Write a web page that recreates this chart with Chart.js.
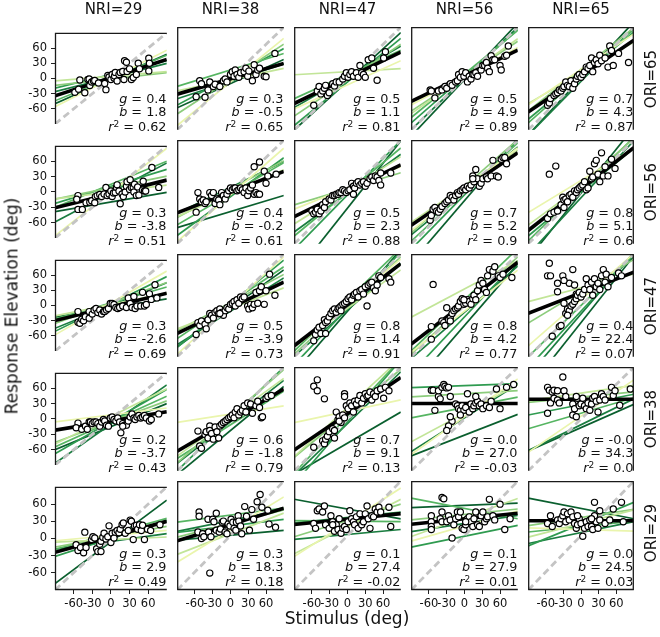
<!DOCTYPE html>
<html><head><meta charset="utf-8">
<script src="https://cdn.jsdelivr.net/npm/chart.js@4.4.0/dist/chart.umd.min.js"></script>
<style>
html,body{margin:0;padding:0;background:#fff;}
#wrap{position:relative;width:660px;height:637px;overflow:hidden;font-family:"DejaVu Sans",sans-serif;color:#111;background:#fff;}
canvas{position:absolute;}
.ann{position:absolute;font-size:12.8px;line-height:1;white-space:nowrap;text-align:right;}
.ann i{font-style:italic;}
.ann sup{font-size:9px;line-height:0;vertical-align:0.45em;}
.lbl{position:absolute;white-space:nowrap;line-height:1;}
</style></head><body><div id="wrap"></div>
<script>
// ---------------- data ----------------
const NRI = [29, 38, 47, 56, 65];          // columns
const ORI = [65, 56, 47, 38, 29];          // rows
const TICKS = [-60, -30, 0, 30, 60];
const LIMITS = [-90, 90];
const IDENTITY = [1, 0];

const GAIN = [["0.4","0.3","0.5","0.5","0.7"],["0.3","0.4","0.5","0.7","0.8"],["0.3","0.5","0.8","0.8","0.4"],["0.2","0.6","0.7","0.0","-0.0"],["0.3","0.3","0.1","0.1","0.0"]];
const BIAS = [["1.8","-0.5","1.1","4.9","4.3"],["-3.8","-0.2","2.3","5.2","5.1"],["-2.6","-3.9","1.4","4.2","22.4"],["-3.7","-1.8","9.1","27.0","34.3"],["2.9","18.3","27.4","27.9","24.5"]];
const R2 = [["0.62","0.65","0.81","0.89","0.87"],["0.51","0.61","0.88","0.9","0.6"],["0.69","0.73","0.91","0.77","0.07"],["0.43","0.79","0.13","-0.03","0.0"],["0.49","0.18","-0.02","0.01","0.03"]];

// responses [stimulus, response] per panel, one array per ORI row (NRI 29..65)
const RESP_ORI65 = [
 [[-58,-27],[-52,-21],[-50,-3],[-42,-28],[-37,-2],[-35,-1],[-34,-14],[-31,-7],[-28,-5],[-26,-4],[-20,-9],[-10,-10],[-8,-22],[-5,6],[-3,3],[0,-2],[2,8],[5,1],[6,5],[7,12],[10,-5],[13,8],[15,12],[19,14],[21,-2],[22,35],[25,32],[26,14],[30,19],[33,-2],[36,2],[41,8],[44,30],[46,19],[61,40],[62,30],[61,15]],
 [[-58,-32],[-52,-4],[-49,-9],[-43,-33],[-38,-20],[-35,-6],[-29,-14],[-26,-10],[-18,-14],[-12,-4],[-9,-1],[-6,-6],[0,7],[3,12],[6,4],[8,15],[11,7],[14,2],[17,10],[23,12],[26,18],[29,4],[31,13],[37,-4],[40,24],[43,7],[46,15],[49,18],[57,4],[60,3],[75,44]],
 [[-57,-47],[-51,-22],[-48,-14],[-45,-27],[-42,-22],[-39,-17],[-37,-12],[-34,-30],[-31,-25],[-25,-9],[-22,-13],[-19,-6],[-14,-6],[-8,-1],[-5,4],[-2,10],[1,2],[4,7],[7,12],[10,4],[15,10],[18,2],[21,23],[24,10],[27,7],[30,2],[35,33],[41,36],[44,18],[50,-3],[61,36],[64,47]],
 [[-58,-20],[-56,-22],[-50,-34],[-44,-22],[-38,-20],[-33,-14],[-30,-17],[-24,-9],[-21,-12],[-15,-6],[-12,-4],[-10,7],[-7,2],[-4,12],[-1,4],[2,10],[5,-6],[8,4],[11,-1],[14,7],[16,7],[19,10],[22,4],[28,15],[31,23],[34,23],[37,28],[39,18],[42,12],[45,40],[48,33],[51,33],[60,23],[62,15],[68,39],[74,57],[71,41]],
 [[-57,-47],[-54,-43],[-52,-35],[-46,-30],[-43,-27],[-40,-25],[-37,-20],[-34,-22],[-31,-17],[-29,-14],[-26,-6],[-23,-12],[-20,-14],[-17,-4],[-14,-17],[-11,-9],[-8,-1],[-6,4],[-3,7],[0,2],[3,7],[6,12],[9,20],[12,18],[15,23],[18,36],[20,12],[23,28],[26,33],[29,26],[32,41],[35,31],[41,36],[46,20],[49,57],[52,49],[55,23],[64,44],[81,28]]
];
const RESP_ORI56 = [
 [[-53,-7],[-55,-14],[-53,-34],[-46,-34],[-40,-21],[-34,-20],[-31,-17],[-26,-21],[-25,-9],[-22,-7],[-18,-5],[-15,-9],[-11,-4],[-8,9],[-6,-7],[-3,-4],[0,2],[2,-9],[4,-2],[7,-1],[9,9],[10,14],[13,2],[15,-23],[18,-4],[20,-9],[23,0],[25,11],[26,20],[30,5],[31,24],[33,9],[36,9],[37,0],[38,15],[41,-7],[43,10],[45,-6],[51,4],[52,21],[54,2],[56,2],[66,48],[77,9]],
 [[-58,-35],[-55,-1],[-52,-12],[-49,-17],[-46,-14],[-43,-20],[-41,-17],[-35,-1],[-32,-6],[-29,-1],[-26,-20],[-23,-12],[-20,-14],[-18,-22],[-15,-1],[-12,-6],[-9,-12],[-6,-4],[-3,2],[0,7],[3,4],[6,7],[8,7],[11,2],[14,4],[17,7],[20,4],[23,-1],[26,7],[29,-6],[31,2],[34,7],[37,12],[40,-4],[43,-1],[46,-4],[49,-4],[40,44],[49,52],[57,36],[60,15],[63,28],[77,31]],
 [[-60,-33],[-57,-38],[-54,-35],[-51,-30],[-48,-38],[-45,-33],[-42,-22],[-39,-27],[-37,-17],[-31,-12],[-28,-14],[-25,-6],[-22,-6],[-19,-4],[-16,-4],[-14,-1],[-11,-1],[-8,4],[-5,2],[-2,-1],[1,2],[4,4],[7,15],[10,10],[12,7],[15,15],[18,18],[21,12],[24,15],[27,18],[30,10],[33,15],[38,23],[41,26],[44,20],[47,28],[50,26],[53,20],[56,12],[56,33],[73,33],[10,-4]],
 [[-58,-49],[-56,-41],[-53,-30],[-50,-27],[-47,-33],[-44,-35],[-41,-30],[-38,-25],[-33,-20],[-30,-17],[-27,-14],[-24,-6],[-21,-9],[-18,-14],[-15,-6],[-12,-1],[-10,-4],[-7,2],[-4,4],[-1,7],[2,4],[5,10],[8,7],[11,12],[14,28],[16,18],[19,39],[22,23],[25,10],[28,15],[31,23],[37,26],[39,23],[45,28],[48,55],[54,28],[57,26],[62,57],[65,60],[68,60],[71,49],[14,23]],
 [[-54,31],[-43,45],[-57,-46],[-52,-38],[-46,-35],[-40,-33],[-34,-22],[-31,-9],[-29,-14],[-26,-12],[-23,-17],[-20,-6],[-17,-4],[-14,-9],[-11,2],[-8,-1],[-6,4],[-3,7],[0,10],[3,12],[6,18],[9,4],[12,7],[15,36],[18,23],[20,26],[23,49],[26,55],[29,31],[32,18],[35,68],[38,28],[41,44],[46,28],[52,57],[58,41],[-29,-27]]
];
const RESP_ORI47 = [
 [[-53,-12],[-53,-33],[-50,-35],[-47,-27],[-44,-30],[-41,-22],[-35,-25],[-35,-12],[-30,-17],[-27,-9],[-24,-6],[-21,-14],[-18,-9],[-15,-17],[-12,-12],[-10,-12],[-7,-9],[-4,-6],[-1,4],[2,4],[5,2],[8,-4],[11,-6],[14,-4],[19,-1],[25,-4],[28,15],[31,4],[34,-4],[37,18],[39,-6],[42,-1],[48,-1],[51,26],[54,-1],[57,2],[62,23],[65,12],[71,41],[74,15]],
 [[-58,-51],[-55,-30],[-52,-35],[-49,-27],[-43,-33],[-41,-41],[-38,-25],[-35,-14],[-32,-17],[-29,-22],[-26,-12],[-23,-9],[-20,-14],[-18,-6],[-15,-12],[-12,-17],[-9,-9],[-6,-4],[-3,-6],[0,2],[3,4],[6,7],[8,-1],[11,10],[14,4],[17,15],[20,12],[23,15],[29,-1],[31,-6],[34,2],[37,-4],[40,2],[43,23],[46,4],[49,26],[52,33],[57,2],[60,26],[66,55],[75,18],[-18,-14]],
 [[-57,-62],[-54,-51],[-51,-43],[-48,-38],[-45,-49],[-42,-35],[-39,-25],[-37,-30],[-34,-27],[-31,-20],[-28,-14],[-25,-9],[-22,-6],[-19,-12],[-16,-6],[-14,-4],[-11,-1],[-8,2],[-5,4],[-2,7],[1,12],[4,15],[7,10],[10,18],[12,20],[15,23],[18,15],[21,26],[24,28],[27,20],[30,33],[33,-1],[35,36],[38,39],[41,41],[44,31],[47,26],[50,36],[53,52],[56,49],[70,47],[73,41],[-37,-49],[-11,-9]],
 [[-53,37],[-56,-37],[-56,-59],[-38,-27],[-35,-30],[-33,-35],[-30,-4],[-27,-25],[-24,-22],[-21,-14],[-18,-9],[-15,-6],[-12,-4],[-10,-1],[-7,7],[-4,12],[-1,2],[2,4],[5,10],[8,7],[11,2],[14,12],[16,18],[19,10],[22,26],[25,36],[28,44],[31,39],[34,28],[37,23],[39,52],[42,63],[48,60],[51,68],[57,52],[60,49],[65,55],[80,49],[-24,-27],[-1,10]],
 [[-54,74],[-57,52],[-52,52],[-40,39],[-31,52],[-40,24],[-20,39],[-14,63],[-11,36],[-8,20],[-29,44],[-49,-54],[-37,-37],[-34,-35],[-26,-14],[-23,-6],[-20,-9],[-17,-1],[-14,2],[-11,7],[-8,12],[-6,18],[-3,23],[0,15],[3,20],[6,28],[9,47],[12,36],[15,28],[18,41],[20,18],[23,47],[26,33],[29,39],[32,28],[35,52],[38,63],[41,41],[43,55],[46,33],[52,49],[64,57],[69,52],[-29,4],[-23,-17]]
];
const RESP_ORI38 = [
 [[-53,-8],[-56,-17],[-47,-20],[-41,-14],[-38,-20],[-35,-6],[-33,-6],[-30,-9],[-27,-6],[-24,-6],[-21,-9],[-18,-14],[-15,-6],[-12,-1],[-10,-4],[-7,-12],[-4,-14],[-1,2],[2,4],[5,-1],[8,-4],[11,2],[14,-6],[16,-27],[19,-9],[22,-12],[25,-12],[28,-4],[31,4],[34,10],[37,2],[39,-1],[42,4],[45,7],[48,2],[51,4],[54,7],[57,2],[62,-4],[65,-1],[77,10],[19,-14]],
 [[-55,-21],[-52,-47],[-49,-51],[-43,-27],[-41,-22],[-38,-33],[-35,-12],[-35,-20],[-32,-25],[-29,-35],[-26,-14],[-23,-22],[-20,-33],[-18,-12],[-15,-9],[-12,-6],[-9,-4],[-6,-1],[-3,2],[0,4],[3,7],[6,2],[8,12],[11,18],[14,7],[17,12],[20,15],[23,23],[26,12],[29,28],[34,26],[37,10],[43,23],[46,31],[49,20],[52,2],[54,4],[60,36],[63,39],[69,41]],
 [[-57,57],[-51,68],[-51,49],[-39,35],[-57,-49],[-42,-38],[-39,-43],[-37,-35],[-34,-30],[-31,-22],[-25,-17],[-22,-20],[-19,12],[-16,-1],[-14,4],[-11,-6],[-8,7],[-5,44],[-5,39],[-2,23],[1,18],[4,28],[7,23],[10,12],[12,31],[15,26],[18,33],[21,41],[24,28],[27,36],[30,44],[33,39],[35,41],[38,47],[41,33],[44,44],[47,39],[50,49],[56,52],[61,36],[64,55],[70,49],[-14,-4],[-22,-33],[-5,2]],
 [[-56,50],[-53,50],[-44,39],[-41,35],[-44,49],[-38,55],[-35,60],[-33,57],[-30,54],[-27,55],[-24,39],[-21,-4],[-27,-12],[-30,-20],[-24,4],[-15,26],[-12,23],[-10,18],[-7,15],[-4,23],[-1,15],[2,20],[5,44],[8,12],[11,26],[14,18],[16,23],[19,28],[22,31],[25,23],[28,26],[31,18],[37,23],[42,20],[45,31],[54,52],[60,18],[71,55],[83,60],[-50,15],[-7,7],[19,39]],
 [[-57,55],[-54,50],[-49,47],[-46,50],[-40,49],[-31,73],[-29,49],[-26,39],[-52,28],[-57,10],[-46,36],[-40,33],[-14,26],[-14,7],[-11,18],[-8,4],[-6,36],[-3,23],[0,26],[3,36],[6,23],[9,18],[12,28],[15,15],[18,26],[20,36],[23,39],[26,31],[29,12],[32,33],[35,44],[38,39],[41,33],[52,55],[55,41],[58,49],[66,24],[84,52],[-8,39],[-37,28]]
];
const RESP_ORI29 = [
 [[-56,-11],[-53,-21],[-49,-16],[-44,-25],[-42,11],[-40,-16],[-31,-2],[-29,3],[-26,1],[-23,-18],[-21,-23],[-18,-10],[-16,-5],[-13,2],[-11,9],[-8,-1],[-5,3],[-3,22],[0,-7],[2,9],[5,1],[7,11],[10,14],[13,10],[15,16],[18,24],[20,27],[23,9],[28,14],[31,32],[33,30],[36,-2],[38,22],[41,23],[43,16],[46,24],[49,14],[51,23],[54,-2],[59,16],[64,14],[79,24],[-16,-23]],
 [[-53,39],[-53,32],[-55,6],[-49,-5],[-47,3],[-45,-2],[-38,27],[-37,6],[-33,-2],[-30,27],[-28,23],[-24,37],[-24,9],[-19,6],[-17,11],[-14,22],[-12,24],[-9,6],[-6,3],[-4,19],[-1,16],[1,27],[4,22],[6,12],[9,9],[10,22],[13,33],[14,24],[17,16],[19,3],[24,48],[27,32],[32,9],[36,43],[39,27],[45,56],[50,68],[53,47],[63,42],[65,19],[76,14],[-35,-62]],
 [[-57,20],[-54,12],[-51,41],[-48,44],[-42,39],[-39,49],[-37,18],[-31,12],[-28,33],[-25,23],[-22,7],[-19,18],[-16,10],[-14,28],[-11,4],[-8,12],[-5,15],[-2,10],[1,23],[4,41],[7,28],[10,23],[12,18],[15,31],[18,12],[21,36],[24,18],[27,23],[30,36],[33,49],[35,28],[38,12],[41,33],[44,31],[47,44],[50,39],[53,47],[56,39],[70,47],[73,15],[-25,18]],
 [[-56,33],[-56,23],[-56,15],[-56,10],[-38,63],[-35,61],[-41,28],[-38,39],[-38,23],[-30,23],[-27,33],[-24,26],[-21,-4],[-18,18],[-15,28],[-12,39],[-10,31],[-7,39],[-4,12],[-1,10],[2,18],[5,28],[8,31],[11,23],[14,15],[16,28],[19,39],[22,18],[25,15],[28,33],[31,39],[34,23],[37,28],[39,31],[42,60],[48,33],[51,26],[60,52],[68,10],[77,28],[2,23]],
 [[-57,20],[-52,33],[-49,15],[-40,26],[-37,20],[-34,28],[-31,33],[-29,39],[-26,23],[-23,36],[-20,26],[-17,39],[-14,31],[-11,20],[-8,12],[-6,18],[-3,28],[0,20],[3,-1],[6,12],[9,23],[12,15],[15,26],[18,15],[20,10],[23,33],[26,23],[29,12],[32,26],[23,55],[32,41],[41,20],[49,26],[55,44],[69,55],[72,23],[18,28],[-6,33]]
];

// per-participant fits [gain, bias]
const SUBJ_ORI65 = [
 [[0.62,0],[0.1,4.5],[0.14,-1],[0.5,1],[0.3,8],[0.31,2],[0.54,-1]],
 [[0.85,-6],[0.22,-2],[0.68,-1],[0.32,15],[0.55,3],[0.34,-5],[0.47,-9]],
 [[0.47,-11],[0.06,12],[0.7,-3],[0.47,7],[0.85,-6],[0.6,3],[0.95,-5]],
 [[0.56,4],[0.73,4],[0.68,4],[0.85,8],[0.91,4],[1.0,0],[1.1,-2]],
 [[0.69,16],[0.6,10],[0.81,16],[0.91,4],[0.85,5],[1.05,-5],[1.1,0]]
];
const SUBJ_ORI56 = [
 [[0.95,0],[0.15,0],[0.25,8.5],[0.5,15],[0.37,11],[0.64,-1],[0.21,-19.5]],
 [[0.9,-5],[0.45,-2],[0.55,5],[0.6,-3],[0.75,-8],[0.5,8],[0.31,-34]],
 [[0.41,7],[0.65,3],[0.31,5.5],[0.85,0],[1.05,-5],[0.75,-2],[1.3,-28]],
 [[0.8,5],[0.7,10],[0.9,10],[0.95,0],[1.05,-5],[0.85,2],[1.2,-15]],
 [[0.62,20],[0.75,10],[0.9,12],[1.0,5],[0.85,0],[1.1,-10],[1.27,-2]]
];
const SUBJ_ORI47 = [
 [[0.7,5],[0.25,2],[0.45,5],[0.35,5],[0.6,3],[0.5,0],[0.2,-5]],
 [[0.95,0],[0.4,-5],[0.55,5],[0.7,5],[0.85,3],[0.65,-10],[0.75,-5]],
 [[0.85,5],[0.75,-5],[0.95,0],[1.0,10],[1.1,-5],[0.9,-8],[1.2,-10]],
 [[0.8,-10],[0.55,29],[0.95,0],[1.0,10],[1.1,-20],[0.9,-12],[1.2,-35]],
 [[0.9,10],[0.27,31],[0.62,25],[1.0,0],[1.1,-10],[1.2,-15],[1.3,-30]]
];
const SUBJ_ORI38 = [
 [[0.15,8],[0.6,5],[0.45,-5],[0.55,-5],[0.7,-5],[0.85,-10],[0.5,-15]],
 [[0.16,8.5],[0.75,3],[0.9,5],[0.65,-10],[1.0,0],[0.8,-5],[0.85,-20]],
 [[0.22,13.5],[0.95,20],[0.85,10],[1.1,5],[1.2,-5],[1.0,-8],[0.6,-42]],
 [[0.73,4],[0.55,10],[0.06,44],[0.2,20],[0.04,58],[0.65,2],[0.4,-28]],
 [[0.7,5],[0.15,45],[0.1,38],[0.3,10],[0.2,25],[0.5,-10],[0.45,-15]]
];
const SUBJ_ORI29 = [
 [[0.1,5],[0.05,-2],[0.2,3],[0.3,8],[0.35,0],[0.15,-5],[0.81,-6]],
 [[0.6,10],[0.38,3],[0.25,20],[0.13,34],[0.12,16],[0.2,25],[0.09,0.5]],
 [[0.63,22],[0.5,15],[0.3,25],[-0.01,24],[0.1,30],[0.09,2],[-0.18,44]],
 [[0.28,16],[0.35,30],[0.1,35],[-0.19,45],[0.2,-1],[0.15,20],[0.04,50]],
 [[-0.03,10],[0.25,20],[0.15,30],[0.1,15],[0.4,19],[0.2,5],[-0.19,45]]
];

const RESP = [RESP_ORI65, RESP_ORI56, RESP_ORI47, RESP_ORI38, RESP_ORI29];
const SUBJ = [SUBJ_ORI65, SUBJ_ORI56, SUBJ_ORI47, SUBJ_ORI38, SUBJ_ORI29];
const SUBJ_COLORS = ['#eaf5ad','#c2e598','#8ccc7c','#56b562','#2f9b50','#1a7d40','#0a5f2e'];

// ---------------- layout ----------------
const X = [55, 172, 289, 406, 523, 639];
const Y = [22, 135, 249, 362, 476, 590];
const YW = 45, XH = 30;
const wrap = document.getElementById('wrap');

function fitLine(g, b) {
  return LIMITS.map(x => ({ x: x, y: g * x + b }));
}
function tickFmt(v) { return String(v); }

const framePlugin = {
  id: 'frame',
  afterDraw(chart, args, opts) {
    const a = chart.chartArea, c = chart.ctx;
    c.save();
    c.strokeStyle = '#1a1a1a'; c.lineWidth = 1.3;
    c.beginPath();
    c.moveTo(a.left + 0.5, a.bottom); c.lineTo(a.left + 0.5, a.top + 0.5); c.lineTo(a.right, a.top + 0.5);
    if (opts.right) { c.moveTo(a.right - 0.5, a.top); c.lineTo(a.right - 0.5, a.bottom); }
    if (opts.bottom) { c.moveTo(a.left, a.bottom - 0.5); c.lineTo(a.right, a.bottom - 0.5); }
    c.stroke();
    c.restore();
  }
};

function scaleOpts(show, isX) {
  return {
    type: 'linear', min: LIMITS[0], max: LIMITS[1], display: show,
    afterBuildTicks: s => { s.ticks = TICKS.map(v => ({ value: v })); },
    afterFit: s => {
      if (isX) s.height = show ? XH : 0;
      else s.width = show ? YW : 0;
    },
    grid: { display: true, drawOnChartArea: false, drawTicks: true, tickLength: 4, color: '#222', lineWidth: 1 },
    border: { display: false },
    ticks: { callback: tickFmt, autoSkip: false, maxRotation: 0, padding: isX ? 3 : 4,
             color: '#111', font: { family: 'DejaVu Sans', size: 11.5 } }
  };
}

for (let r = 0; r < 5; r++) {
  for (let c = 0; c < 5; c++) {
    const isLeft = c === 0, isBottom = r === 4;
    const left = X[c] - (isLeft ? YW : 0);
    const w = X[c + 1] - X[c] + (isLeft ? YW : 0);
    const top = Y[r];
    const h = Y[r + 1] - Y[r] + (isBottom ? XH : 0);
    const cv = document.createElement('canvas');
    cv.width = w; cv.height = h;
    cv.style.left = left + 'px'; cv.style.top = top + 'px';
    cv.style.width = w + 'px'; cv.style.height = h + 'px';
    wrap.appendChild(cv);

    const datasets = [];
    datasets.push({
      data: RESP[r][c].map(p => ({ x: p[0], y: p[1] })),
      showLine: false, pointRadius: 3.1, pointBorderWidth: 1.2,
      pointBackgroundColor: '#fff', pointBorderColor: '#000', order: 0
    });
    datasets.push({
      data: fitLine(parseFloat(GAIN[r][c]), parseFloat(BIAS[r][c])),
      showLine: true, borderColor: '#000', borderWidth: 3.6, pointRadius: 0, order: 1, clip: 0
    });
    datasets.push({
      data: fitLine(IDENTITY[0], IDENTITY[1]),
      showLine: true, borderColor: '#c4c4c4', borderWidth: 2.8, borderDash: [7, 4],
      pointRadius: 0, order: 2, clip: 0
    });
    SUBJ[r][c].forEach((s, k) => {
      datasets.push({
        data: fitLine(s[0], s[1]),
        showLine: true, borderColor: SUBJ_COLORS[k], borderWidth: 1.7,
        pointRadius: 0, order: 3 + k, clip: 0
      });
    });

    new Chart(cv, {
      type: 'scatter',
      data: { datasets },
      options: {
        responsive: false, animation: false, devicePixelRatio: 1, events: [],
        layout: { padding: 0 },
        plugins: { legend: { display: false }, tooltip: { enabled: false },
                   frame: { right: c === 4, bottom: r === 4 } },
        scales: { x: scaleOpts(isBottom, true), y: scaleOpts(isLeft, false) }
      },
      plugins: [framePlugin]
    });

    // annotation text
    const rightPx = 660 - X[c + 1] + 5.5;
    const bottomBase = 637 - Y[r + 1];
    const lines = [
      ['<i>r</i><sup>2</sup> = ' + R2[r][c], 1.3],
      ['<i>b</i> = ' + BIAS[r][c], 16.3],
      ['<i>g</i> = ' + GAIN[r][c], 28.8]
    ];
    lines.forEach(([html, off]) => {
      const d = document.createElement('div');
      d.className = 'ann';
      d.innerHTML = html;
      d.style.right = rightPx + 'px';
      d.style.bottom = (bottomBase + off) + 'px';
      wrap.appendChild(d);
    });
  }
}

// column titles
NRI.forEach((v, c) => {
  const d = document.createElement('div');
  d.className = 'lbl';
  d.style.fontSize = '15px';
  d.textContent = 'NRI=' + v;
  d.style.left = ((X[c] + X[c + 1]) / 2) + 'px';
  d.style.top = '2px';
  d.style.transform = 'translateX(-50%)';
  wrap.appendChild(d);
});
// row titles
ORI.forEach((v, r) => {
  const d = document.createElement('div');
  d.className = 'lbl';
  d.style.fontSize = '15px';
  d.textContent = 'ORI=' + v;
  d.style.left = '651px';
  d.style.top = ((Y[r] + Y[r + 1]) / 2) + 'px';
  d.style.transform = 'translate(-50%,-50%) rotate(-90deg)';
  wrap.appendChild(d);
});
// axis titles
const yl = document.createElement('div');
yl.className = 'lbl'; yl.style.fontSize = '17px';
yl.textContent = 'Response Elevation (deg)';
yl.style.left = '12px'; yl.style.top = '306px';
yl.style.transform = 'translate(-50%,-50%) rotate(-90deg)';
wrap.appendChild(yl);
const xl = document.createElement('div');
xl.className = 'lbl'; xl.style.fontSize = '17px';
xl.textContent = 'Stimulus (deg)';
xl.style.left = '347px'; xl.style.top = '618px';
xl.style.transform = 'translate(-50%,-50%)';
wrap.appendChild(xl);
</script></body></html>
